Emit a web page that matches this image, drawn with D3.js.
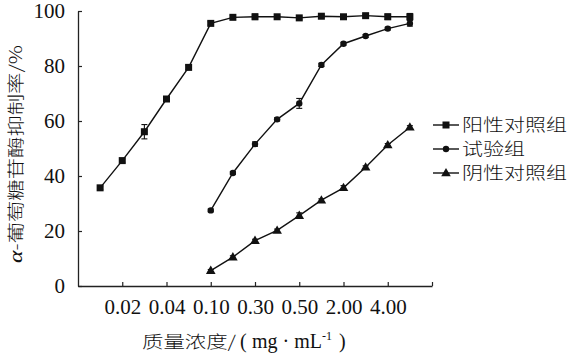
<!DOCTYPE html>
<html>
<head>
<meta charset="utf-8">
<script src="https://cdn.jsdelivr.net/npm/d3@7"></script>
<style>
  body { margin: 0; background: #fff; }
  svg { display: block; }
</style>
</head>
<body>
<div id="chart"></div>
<script>
// point positions along the (categorical) concentration axis
var positiveIdx = [0,1,2,3,4,5,6,7,8,9,10,11,12,13,14];
var positiveVal = [35.7,45.6,56.1,68,79.5,95.5,97.7,97.9,97.9,97.5,98.1,97.9,98.3,97.9,97.9];
var positiveErr = [0.6,0.6,2.6,0.6,0.8,0.6,0.6,1.0,0.5,0.5,0.5,0.5,0.5,1.0,1.2];

var testIdx = [5,6,7,8,9,10,11,12,13,14];
var testVal = [27.5,41.1,51.6,60.6,66.4,80.4,88.1,90.9,93.6,95.5];
var testErr = [0.5,0.5,0.8,0.6,1.8,0.6,0.5,0.5,0.5,1.0];

var negativeIdx = [5,6,7,8,9,10,11,12,13,14];
var negativeVal = [5.6,10.5,16.5,20.2,25.6,31.2,35.7,43.2,51.3,57.7];
var negativeErr = [0.4,0.5,0.5,0.5,1.0,0.5,0.8,0.5,0.5,0.6];

var xTickPos = [1,3,5,7,9,11,13,15];
var xTickLabels = ["0.02","0.04","0.10","0.30","0.50","2.00","4.00",""];
var yTicks = [0,20,40,60,80,100];

var seriesNames = ["阳性对照组","试验组","阴性对照组"];
var seriesShapes = ["square","circle","triangle"];

var width = 573, height = 358;
var serif = "'Liberation Serif','DejaVu Serif',serif";
var cjk = "'Noto Sans CJK SC','Noto Sans CJK JP',sans-serif";

var svg = d3.select("#chart").append("svg")
  .attr("width", width)
  .attr("height", height);

var x = d3.scaleLinear().domain([-1, 15]).range([78, 432]);
var y = d3.scaleLinear().domain([0, 100]).range([286, 11]);

// axes
var xAxis = d3.axisBottom(x)
  .tickValues(xTickPos)
  .tickSizeInner(-4)
  .tickSizeOuter(0)
  .tickPadding(13)
  .tickFormat(function(d, i) { return xTickLabels[i]; });

var gx = svg.append("g")
  .attr("transform", "translate(0," + y(0) + ")")
  .call(xAxis);
gx.select(".domain").attr("stroke", "#222").attr("stroke-width", 1.3);
gx.selectAll(".tick line").attr("stroke", "#222").attr("stroke-width", 1.2);
gx.selectAll(".tick text")
  .attr("font-family", serif)
  .attr("font-size", 21)
  .attr("fill", "#111");

var yAxis = d3.axisLeft(y)
  .tickValues(yTicks)
  .tickSizeInner(-4)
  .tickSizeOuter(0)
  .tickPadding(13);

var gy = svg.append("g")
  .attr("transform", "translate(" + x(-1) + ",0)")
  .call(yAxis);
gy.select(".domain").attr("stroke", "#222").attr("stroke-width", 1.3);
gy.selectAll(".tick line").attr("stroke", "#222").attr("stroke-width", 1.2);
gy.selectAll(".tick text")
  .attr("font-family", serif)
  .attr("font-size", 21)
  .attr("fill", "#111");

// axis titles (Song-style CJK in the source is wide, so stretch glyphs)
svg.append("text")
  .attr("transform", "translate(22,154) rotate(-90)")
  .attr("text-anchor", "middle")
  .attr("font-family", cjk)
  .attr("font-size", 17)
  .attr("font-weight", 300)
  .attr("fill", "#111")
  .attr("textLength", 218)
  .attr("lengthAdjust", "spacingAndGlyphs")
  .html("<tspan font-family=\"" + serif + "\" font-style='italic' font-size='19'>α</tspan>-葡萄糖苷酶抑制率/%");

var xt = svg.append("g").attr("fill", "#111");
xt.append("text")
  .attr("x", 142).attr("y", 348)
  .attr("font-family", cjk)
  .attr("font-size", 17)
  .attr("font-weight", 300)
  .attr("textLength", 94)
  .attr("lengthAdjust", "spacingAndGlyphs")
  .text("质量浓度/");
var xt2 = xt.append("text")
  .attr("x", 240).attr("y", 348)
  .attr("font-family", serif)
  .attr("font-size", 20);
xt2.append("tspan").text("(");
xt2.append("tspan").attr("x", 252).text("mg · mL");
xt2.append("tspan").attr("font-size", 12).attr("dy", -8).text("-1");
xt2.append("tspan").attr("dy", 8).attr("x", 339).text(")");

// marker drawing
function drawMarker(g, shape, cx, cy) {
  if (shape === "square") {
    g.append("rect").attr("x", cx - 3.5).attr("y", cy - 3.5)
      .attr("width", 7).attr("height", 7).attr("fill", "#111");
  } else if (shape === "circle") {
    g.append("circle").attr("cx", cx).attr("cy", cy).attr("r", 3.2).attr("fill", "#111");
  } else {
    g.append("path")
      .attr("d", d3.symbol().type(d3.symbolTriangle).size(40)())
      .attr("transform", "translate(" + cx + "," + (cy + 0.5) + ")")
      .attr("fill", "#111");
  }
}

var line = d3.line()
  .x(function(d) { return x(d.i); })
  .y(function(d) { return y(d.v); });

function drawSeries(idx, vals, errs, shape) {
  var data = idx.map(function(d, k) { return { i: d, v: vals[k], e: errs[k] }; });
  var g = svg.append("g");
  g.append("path")
    .datum(data)
    .attr("d", line)
    .attr("fill", "none")
    .attr("stroke", "#111")
    .attr("stroke-width", 1.4);
  data.forEach(function(d) {
    var cx = x(d.i);
    g.append("line").attr("x1", cx).attr("x2", cx)
      .attr("y1", y(d.v + d.e)).attr("y2", y(d.v - d.e))
      .attr("stroke", "#111").attr("stroke-width", 1.1);
    [d.v + d.e, d.v - d.e].forEach(function(ev) {
      g.append("line").attr("x1", cx - 3).attr("x2", cx + 3)
        .attr("y1", y(ev)).attr("y2", y(ev))
        .attr("stroke", "#111").attr("stroke-width", 1.1);
    });
    drawMarker(g, shape, cx, y(d.v));
  });
}

drawSeries(positiveIdx, positiveVal, positiveErr, "square");
drawSeries(testIdx, testVal, testErr, "circle");
drawSeries(negativeIdx, negativeVal, negativeErr, "triangle");

// legend
var legend = svg.append("g");
seriesNames.forEach(function(name, k) {
  var ly = 125 + k * 24;
  legend.append("line").attr("x1", 433).attr("x2", 459)
    .attr("y1", ly).attr("y2", ly)
    .attr("stroke", "#111").attr("stroke-width", 1.4);
  drawMarker(legend, seriesShapes[k], 446, ly);
  legend.append("text")
    .attr("x", 462).attr("y", ly + 6)
    .attr("font-family", cjk)
    .attr("font-size", 17)
    .attr("font-weight", 300)
    .attr("fill", "#111")
    .attr("textLength", name.length * 21)
    .attr("lengthAdjust", "spacingAndGlyphs")
    .text(name);
});
</script>
</body>
</html>
